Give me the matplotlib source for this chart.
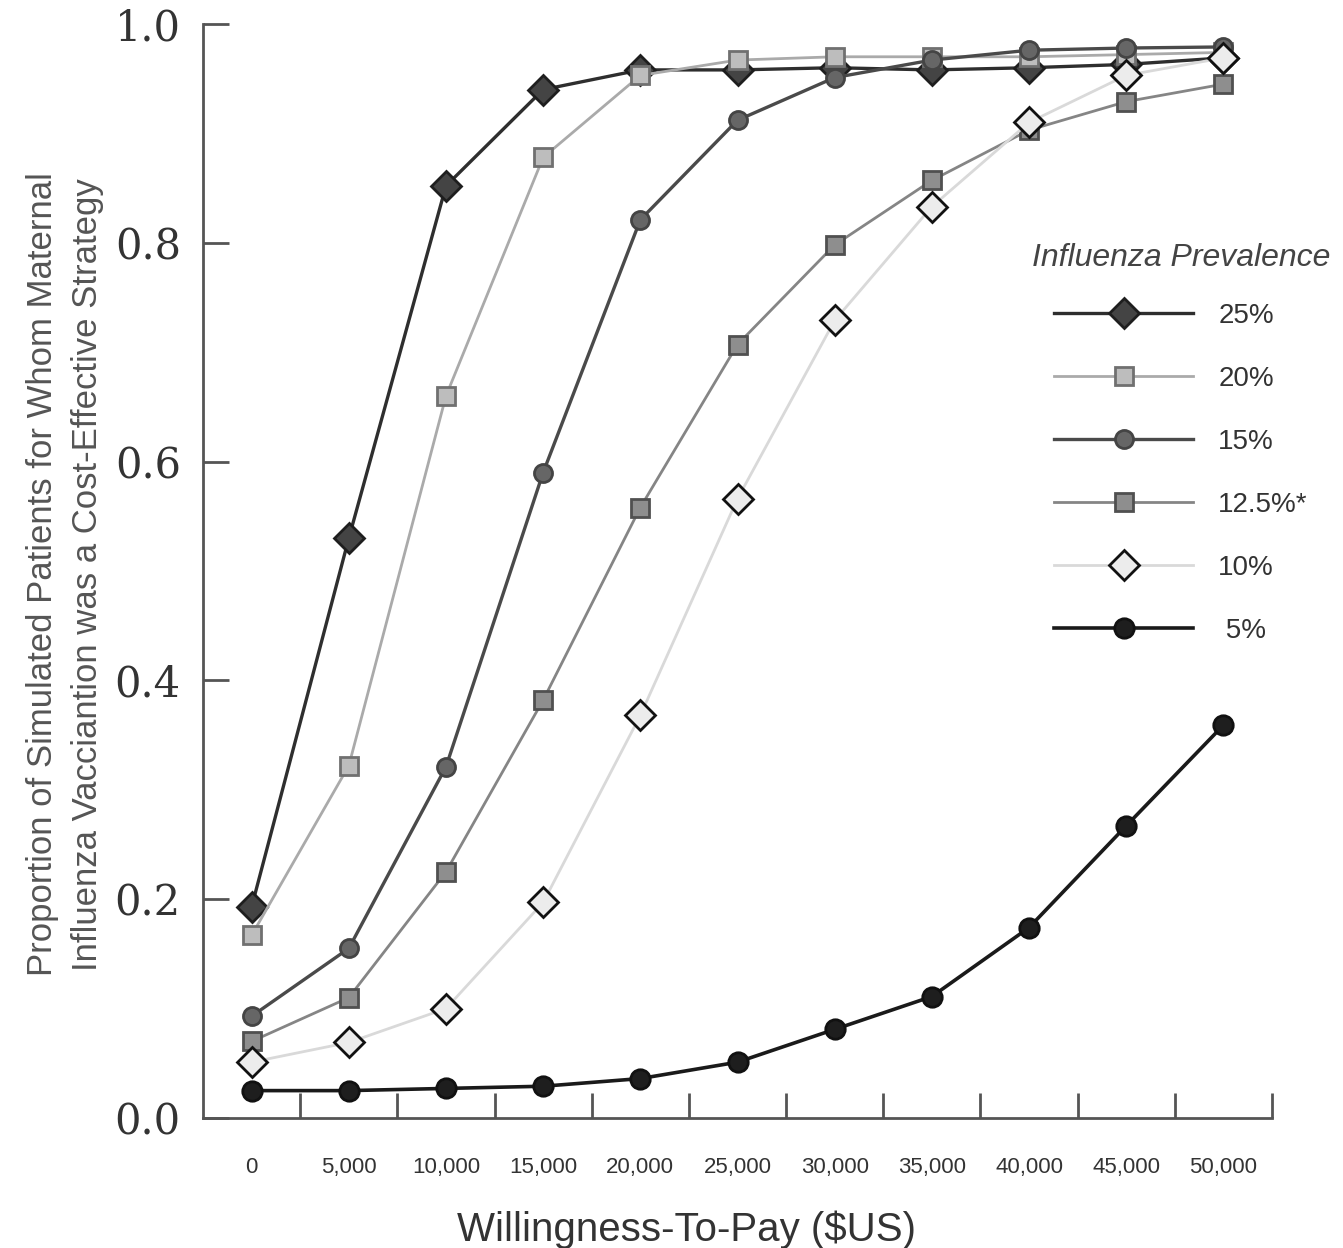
import numpy as np
import matplotlib.pyplot as plt
from matplotlib.ticker import MultipleLocator, FixedLocator

# --- datos ---
wtp = [0, 5000, 10000, 15000, 20000, 25000, 30000, 35000, 40000, 45000, 50000]

p25 = [0.193, 0.530, 0.852, 0.940, 0.958, 0.958, 0.960, 0.958, 0.960, 0.963, 0.969]
p20 = [0.167, 0.322, 0.660, 0.878, 0.953, 0.967, 0.970, 0.970, 0.970, 0.972, 0.974]
p15 = [0.093, 0.155, 0.321, 0.590, 0.821, 0.912, 0.951, 0.967, 0.976, 0.978, 0.979]
p125 = [0.070, 0.110, 0.225, 0.382, 0.558, 0.707, 0.798, 0.857, 0.903, 0.929, 0.945]
p10 = [0.051, 0.069, 0.100, 0.197, 0.368, 0.566, 0.729, 0.833, 0.910, 0.953, 0.969]
p5 = [0.025, 0.025, 0.027, 0.029, 0.036, 0.051, 0.081, 0.111, 0.174, 0.267, 0.359]

labels = ['25%', '20%', '15%', '12.5%*', '10%', ' 5%']
x_ticks = [0, 5000, 10000, 15000, 20000, 25000, 30000, 35000, 40000, 45000, 50000]
x_ticklabels = ['0', '5,000', '10,000', '15,000', '20,000', '25,000',
                '30,000', '35,000', '40,000', '45,000', '50,000']

sans = 'Liberation Sans'

fig = plt.figure(figsize=(13.43, 12.48), dpi=100)
ax = fig.add_axes([0.1512, 0.1042, 0.7959, 0.8766])

# estilos: (datos, color línea, marcador, relleno, borde, tamaño, grosor)
series = [
    (p25, '#2e2e2e', 'D', '#444444', '#1e1e1e', 15, 2.4),
    (p20, '#aaaaaa', 's', '#bdbdbd', '#707070', 13, 2.0),
    (p15, '#4a4a4a', 'o', '#666666', '#444444', 13, 2.4),
    (p125, '#858585', 's', '#8e8e8e', '#505050', 13, 2.0),
    (p10, '#d9d9d9', 'D', '#ececec', '#111111', 15, 2.0),
    (p5, '#1a1a1a', 'o', '#1e1e1e', '#111111', 14, 2.6),
]

for (vals, lc, mk, fc, ec, ms, lw), lab in zip(series, labels):
    ax.plot(wtp, vals, color=lc, lw=lw, marker=mk, markersize=ms,
            markerfacecolor=fc, markeredgecolor=ec, markeredgewidth=2.0,
            label=lab)

ax.set_xlim(-2500, 52500)
ax.set_ylim(0, 1.0)

for s in ['top', 'right']:
    ax.spines[s].set_visible(False)
for s in ['left', 'bottom']:
    ax.spines[s].set_color('#555555')
    ax.spines[s].set_linewidth(2.0)

# eje x: etiquetas en los valores, marcas entre ellos
ax.xaxis.set_major_locator(FixedLocator(x_ticks))
ax.set_xticklabels(x_ticklabels)
ax.xaxis.set_minor_locator(FixedLocator(np.arange(2500, 52501, 5000)))
ax.tick_params(axis='x', which='major', length=0, pad=28, labelsize=16,
               labelcolor='#333333')
ax.tick_params(axis='x', which='minor', direction='in', length=18, width=2,
               color='#555555')
for t in ax.get_xticklabels():
    t.set_family(sans)

ax.yaxis.set_major_locator(MultipleLocator(0.2))
ax.yaxis.set_major_formatter(plt.FormatStrFormatter('%.1f'))
ax.tick_params(axis='y', direction='in', length=19, width=2, color='#555555',
               pad=16, labelsize=30, labelcolor='#333333')
for t in ax.get_yticklabels():
    t.set_family('DejaVu Serif')

ax.set_xlabel('Willingness-To-Pay ($US)', fontsize=29, color='#333333',
              family=sans, labelpad=18)
ax.xaxis.set_label_coords(0.452, -0.085)
ax.set_ylabel('Proportion of Simulated Patients for Whom Maternal\n'
              'Influenza Vacciantion was a Cost-Effective Strategy',
              fontsize=25, color='#555555', family=sans, labelpad=26,
              linespacing=1.45)
ax.yaxis.set_label_coords(-0.093, 0.497)

leg = ax.legend(loc='upper left', bbox_to_anchor=(0.752, 0.823),
                frameon=False, fontsize=20, handlelength=5.0,
                labelspacing=1.33, handletextpad=0.9,
                title='Influenza Prevalence')
leg.get_title().set_fontsize(23)
leg.get_title().set_style('italic')
leg.get_title().set_color('#444444')
leg.get_title().set_family(sans)
leg._legend_box.sep = 22
for t in leg.get_texts():
    t.set_color('#333333')
    t.set_family(sans)

fig.savefig('out.png', dpi=100)
